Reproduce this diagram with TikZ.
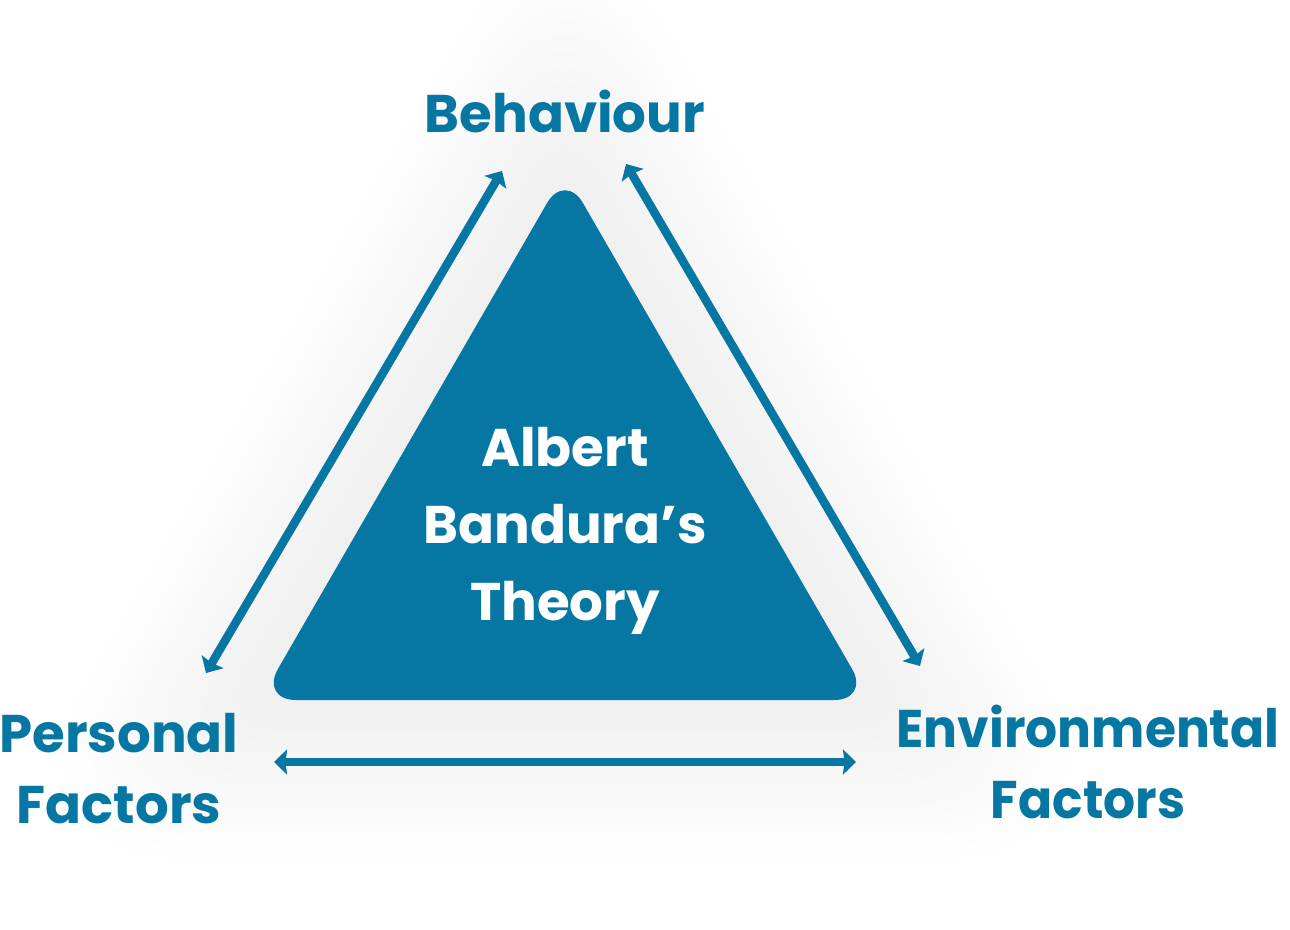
\documentclass[tikz,border=0pt]{standalone}
\usepackage{fontspec}
\setmainfont{Poppins}
\usetikzlibrary{arrows.meta}
\definecolor{bblue}{HTML}{0577A2}
\tikzset{
  lbl/.style={text=bblue, font=\fontsize{53}{71}\selectfont\bfseries, align=center, inner sep=0pt, anchor=base},
  inner/.style={text=white, font=\fontsize{53}{77}\selectfont\bfseries, align=center, inner sep=0pt, anchor=base},
  glowlayer/.style={fill=black!60, opacity=0.0045},
  link/.style={draw=bblue, line width=8.5pt, {Triangle[length=13pt,width=25pt,inset=1.5pt]}-{Triangle[length=13pt,width=25pt,inset=1.5pt]}}
}
\begin{document}
\begin{tikzpicture}[x=1pt,y=-1pt]
\useasboundingbox (0,0) rectangle (1290,929);
\fill[white] (0,0) rectangle (1290,929);
% soft shadow round the triangle
\foreach \s in {1.0,1.06,...,1.92} {
  \pgfmathsetmacro{\rc}{40+180*(\s-1)}
  \begin{scope}[shift={(565,524)}, scale=\s]
    \fill[glowlayer, rounded corners=\rc pt] (-305,176) -- (0,-352) -- (305,176) -- cycle;
  \end{scope}
}
% triangle
\fill[bblue, rounded corners=36pt] (260,700) -- (565,172) -- (870,700) -- cycle;
\node[inner] (theory) at (565,620) {Albert\\Bandura’s\\Theory};
% labels
\node[lbl] (beh) at (565,132) {Behaviour};
\node[lbl] (pers) at (119,823) {Personal\\Factors};
\node[lbl, font=\fontsize{53}{71}\selectfont\bfseries\addfontfeature{FakeStretch=0.95}] (env) at (1088,818) {Environmental\\Factors};
% arrow ends
\coordinate (l1) at (502,171);
\coordinate (l2) at (206,673);
\coordinate (r1) at (626,164);
\coordinate (r2) at (920,666);
\coordinate (b1) at (274,762);
\coordinate (b2) at (856,762);
\draw[link] (l2) -- (l1);
\draw[link] (r1) -- (r2);
\draw[link] (b1) -- (b2);
\end{tikzpicture}
\end{document}
